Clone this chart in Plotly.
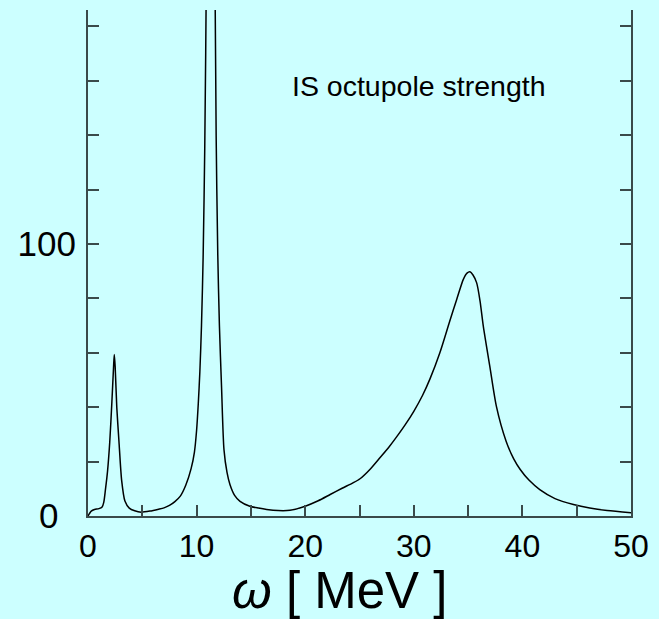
import plotly.graph_objects as go

# Energy (MeV) and IS octupole strength
omega = [0.0, 0.15, 0.3, 0.6, 1.0, 1.3, 1.45, 1.6, 1.8, 2.0, 2.2, 2.35, 2.42,
         2.5, 2.65, 2.85, 3.1, 3.4, 3.8, 4.3, 4.9, 5.7, 6.5, 7.0, 7.5, 8.0,
         8.5, 9.0, 9.5, 9.8, 10.0, 10.15, 10.3, 10.45, 10.6, 10.75, 10.9,
         11.05, 11.28, 11.5, 11.65, 11.8, 11.95, 12.1, 12.3, 12.52, 12.8,
         13.07, 13.5, 14.0, 14.9, 15.7, 16.45, 17.5, 18.6, 20.0, 21.2, 22.3,
         23.4, 24.4, 25.05, 26.0, 26.9, 27.7, 28.4, 29.2, 30.0, 30.8, 31.5,
         32.4, 33.3, 33.95, 34.56, 34.9, 35.17, 35.45, 35.79, 36.1, 36.4,
         37.0, 37.6, 38.5, 39.2, 39.8, 40.6, 41.6, 43.0, 44.7, 46.2, 47.8, 50.0]
strength = [0.0, 1.0, 1.8, 2.4, 2.7, 3.3, 5.0, 9.5, 16.5, 27.0, 42.0, 54.5, 59.4,
            55.0, 40.0, 27.5, 13.0, 5.5, 2.9, 1.9, 1.4, 1.8, 2.5, 3.0, 3.9, 5.3,
            7.3, 11.3, 17.5, 23.5, 31.5, 41.0, 53.0, 70.0, 95.0, 135.0, 200.0,
            330.0, 900.0, 400.0, 230.0, 140.0, 96.0, 70.0, 47.0, 24.4, 16.0,
            11.6, 7.6, 5.4, 3.6, 2.9, 2.4, 2.0, 2.1, 3.6, 5.6, 7.9,
            10.2, 12.2, 13.7, 17.3, 21.5, 25.3, 29.0, 33.5, 38.5, 44.3, 50.5,
            60.0, 71.5, 79.6, 87.0, 89.3, 89.8, 88.6, 85.7, 79.0, 69.8,
            55.0, 40.4, 27.5, 21.0, 17.1, 13.2, 9.7, 6.4, 4.2, 2.9, 2.0, 1.2]

x_ticks = [0, 5, 10, 15, 20, 25, 30, 35, 40, 45, 50]
x_labels = ["0", "", "10", "", "20", "", "30", "", "40", "", "50"]
y_ticks = [0, 20, 40, 60, 80, 100, 120, 140, 160, 180]
y_labels = ["0\u2002", "", "", "", "", "100", "", "", "", ""]

bg = "#ccffff"
axis_col = "#3a4a4a"
fam = "Liberation Sans, Arial"

fig = go.Figure()
fig.add_trace(go.Scatter(x=omega, y=strength, mode="lines",
                         line=dict(color="black", width=1.5, shape="spline", smoothing=0.7),
                         showlegend=False, hoverinfo="skip"))

fig.add_annotation(text="IS octupole strength", x=0.61, y=0.85,
                   xref="paper", yref="paper", xanchor="center", yanchor="middle",
                   showarrow=False,
                   font=dict(family=fam, size=28.5, color="black"))

fig.add_annotation(text="<i>ω</i> [ MeV ]", x=0.464, y=-0.147,
                   xref="paper", yref="paper", xanchor="center", yanchor="middle",
                   showarrow=False,
                   font=dict(family=fam, size=51, color="black"))

fig.update_layout(
    width=659, height=619,
    margin=dict(l=88, r=28, t=10, b=102.5),
    paper_bgcolor=bg, plot_bgcolor=bg,
    font=dict(family=fam, color="black"),
    xaxis=dict(range=[0, 50], tickvals=x_ticks, ticktext=x_labels,
               ticks="inside", ticklen=11, tickwidth=1.5, tickcolor=axis_col,
               showline=True, linecolor=axis_col, linewidth=2,
               showgrid=False, zeroline=False,
               tickfont=dict(size=32), ticklabelstandoff=1),
    yaxis=dict(range=[0, 186], tickvals=y_ticks, ticktext=y_labels,
               ticks="inside", ticklen=11, tickwidth=1.5, tickcolor=axis_col,
               showline=True, linecolor=axis_col, linewidth=2, mirror="ticks",
               showgrid=False, zeroline=False,
               tickfont=dict(size=35), ticklabelstandoff=3),
)

fig.write_html("out.html")
